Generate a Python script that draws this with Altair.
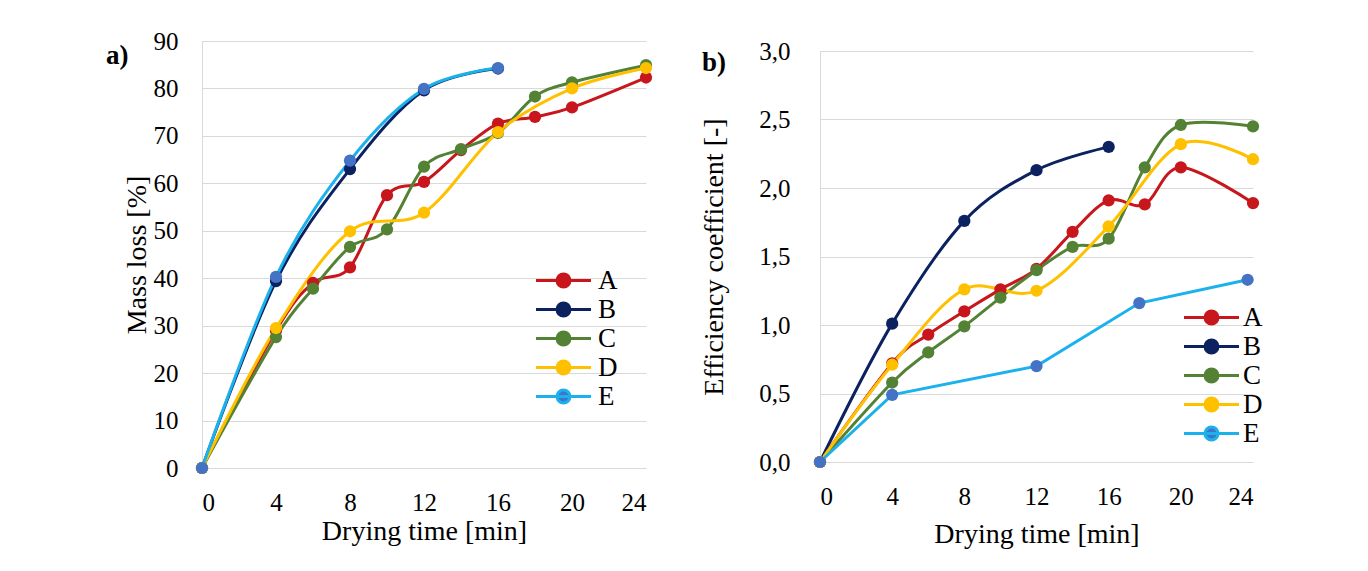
import altair as alt
import pandas as pd

FONT = "Liberation Serif"
series = ["A", "B", "C", "D", "E"]
line_colors = ["#C8161D", "#0B2160", "#548235", "#FFC000", "#1AB1EC"]
marker_colors = ["#C8161D", "#0B2160", "#548235", "#FFC000", "#4472C4"]

# ---- panel a) mass loss [%] ----
a_A_t = [0, 4, 6, 8, 10, 12, 14, 16, 18, 20, 24]
a_A_v = [0, 29.0, 39.0, 42.3, 57.5, 60.3, 67.0, 72.6, 74.0, 76.0, 82.3]
a_B_t = [0, 4, 8, 12, 16]
a_B_v = [0, 39.4, 63.0, 79.6, 84.2]
a_C_t = [0, 4, 6, 8, 10, 12, 14, 16, 18, 20, 24]
a_C_v = [0, 27.6, 37.8, 46.6, 50.3, 63.5, 67.2, 70.6, 78.3, 81.3, 84.9]
a_D_t = [0, 4, 8, 12, 16, 20, 24]
a_D_v = [0, 29.5, 49.9, 53.8, 70.8, 80.0, 84.3]
a_E_t = [0, 4, 8, 12, 16]
a_E_v = [0, 40.3, 64.8, 79.9, 84.3]

# ---- panel b) efficiency coefficient [-] ----
b_A_t = [0, 4, 6, 8, 10, 12, 14, 16, 18, 20, 24]
b_A_v = [0, 0.72, 0.93, 1.10, 1.26, 1.41, 1.68, 1.91, 1.88, 2.15, 1.89]
b_B_t = [0, 4, 8, 12, 16]
b_B_v = [0, 1.01, 1.76, 2.13, 2.30]
b_C_t = [0, 4, 6, 8, 10, 12, 14, 16, 18, 20, 24]
b_C_v = [0, 0.58, 0.80, 0.99, 1.20, 1.40, 1.57, 1.63, 2.15, 2.46, 2.45]
b_D_t = [0, 4, 8, 12, 16, 20, 24]
b_D_v = [0, 0.71, 1.26, 1.25, 1.72, 2.32, 2.21]
b_E_t = [0, 4, 12, 17.7, 23.7]
b_E_v = [0, 0.49, 0.70, 1.16, 1.33]

x_ticks = [0, 4, 8, 12, 16, 20, 24]
a_y_ticks = [0, 10, 20, 30, 40, 50, 60, 70, 80, 90]
b_y_ticks = [0, 0.5, 1.0, 1.5, 2.0, 2.5, 3.0]


def frame(pairs):
    rows = []
    for name, (ts, vs) in zip(series, pairs):
        for t, v in zip(ts, vs):
            rows.append({"Series": name, "Time": t, "Value": v})
    return pd.DataFrame(rows)


df_a = frame([(a_A_t, a_A_v), (a_B_t, a_B_v), (a_C_t, a_C_v), (a_D_t, a_D_v), (a_E_t, a_E_v)])
df_b = frame([(b_A_t, b_A_v), (b_B_t, b_B_v), (b_C_t, b_C_v), (b_D_t, b_D_v), (b_E_t, b_E_v)])

SYMBOL = "M-2,0L2,0M-0.47,0A0.47,0.47,0,1,0,0.47,0A0.47,0.47,0,1,0,-0.47,0Z"


def panel(df, w, h, ymax, yticks, ytitle, label_expr, ylabpad, ytitlepad,
          xlabpad, xtitlepad, lx, ly, loff, title, tdx, tdy, linear_e):
    legend = alt.Legend(orient="none", legendX=lx, legendY=ly, title=None,
                        symbolType=SYMBOL, symbolSize=756, symbolStrokeWidth=3,
                        labelFont=FONT, labelFontSize=27, labelColor="#000",
                        labelOffset=loff, padding=0, rowPadding=0)
    x = alt.X("Time:Q", scale=alt.Scale(domain=[0, 24], nice=False),
              axis=alt.Axis(values=x_ticks, title="Drying time [min]", grid=False,
                            domain=False, ticks=False, labelPadding=xlabpad,
                            titlePadding=xtitlepad))
    yaxis = dict(values=yticks, title=ytitle, grid=True, gridColor="#d9d9d9",
                 domainColor="#d9d9d9", ticks=False, labelPadding=ylabpad,
                 titlePadding=ytitlepad)
    if label_expr:
        yaxis["labelExpr"] = label_expr
    y = alt.Y("Value:Q", scale=alt.Scale(domain=[0, ymax], nice=False),
              axis=alt.Axis(**yaxis))
    stroke = alt.Stroke("Series:N", scale=alt.Scale(domain=series, range=line_colors),
                        legend=legend)
    fill = alt.Fill("Series:N", scale=alt.Scale(domain=series, range=marker_colors),
                    legend=legend)
    base = alt.Chart(df)
    if linear_e:
        smooth = base.transform_filter("datum.Series != 'E'").mark_line(
            strokeWidth=3, interpolate="cardinal").encode(x=x, y=y, stroke=stroke)
        straight = base.transform_filter("datum.Series == 'E'").mark_line(
            strokeWidth=3, interpolate="linear").encode(x=x, y=y, stroke=stroke)
        lines = smooth + straight
    else:
        lines = base.mark_line(strokeWidth=3, interpolate="cardinal").encode(
            x=x, y=y, stroke=stroke)
    points = base.mark_circle(size=150, opacity=1).encode(x=x, y=y, fill=fill)
    return alt.layer(lines, points).properties(
        width=w, height=h,
        title=alt.TitleParams(text=title, anchor="start", frame="group", orient="top",
                              font=FONT, fontSize=27, fontWeight="bold", color="#000",
                              baseline="middle", dx=tdx, dy=tdy, offset=0))


left = panel(df_a, 444, 427, 90, a_y_ticks, "Mass loss [%]", None, 24, 2,
             22, 2, 346, 224, 19, "a)", -96, 54, False)
right = panel(df_b, 433, 411, 3.0, b_y_ticks, "Efficiency coefficient [-]",
              "replace(format(datum.value, '.1f'), '.', ',')", 30, 30,
              22, 11, 376, 251, 16, "b)", -118, 51, True)


def spacer(h):
    return alt.Chart(pd.DataFrame({"v": [0]})).mark_text(text="").properties(width=1, height=h)


left_col = alt.vconcat(spacer(1), left, spacing=0).resolve_scale(
    stroke="independent", fill="independent")
right_col = alt.vconcat(spacer(16), right, spacing=0).resolve_scale(
    stroke="independent", fill="independent")

chart = alt.hconcat(left_col, right_col, spacing=47).resolve_scale(
    stroke="independent", fill="independent", x="independent", y="independent"
).resolve_legend(stroke="independent", fill="independent").properties(
    padding={"left": 98, "top": 9, "right": 5, "bottom": 5}
).configure(background="white").configure_view(stroke=None).configure_axis(
    labelFont=FONT, labelFontSize=25, labelColor="#000",
    titleFont=FONT, titleFontSize=28, titleFontWeight="normal", titleColor="#000"
)

chart.save("out.html", embed_options={"renderer": "svg", "actions": False})
